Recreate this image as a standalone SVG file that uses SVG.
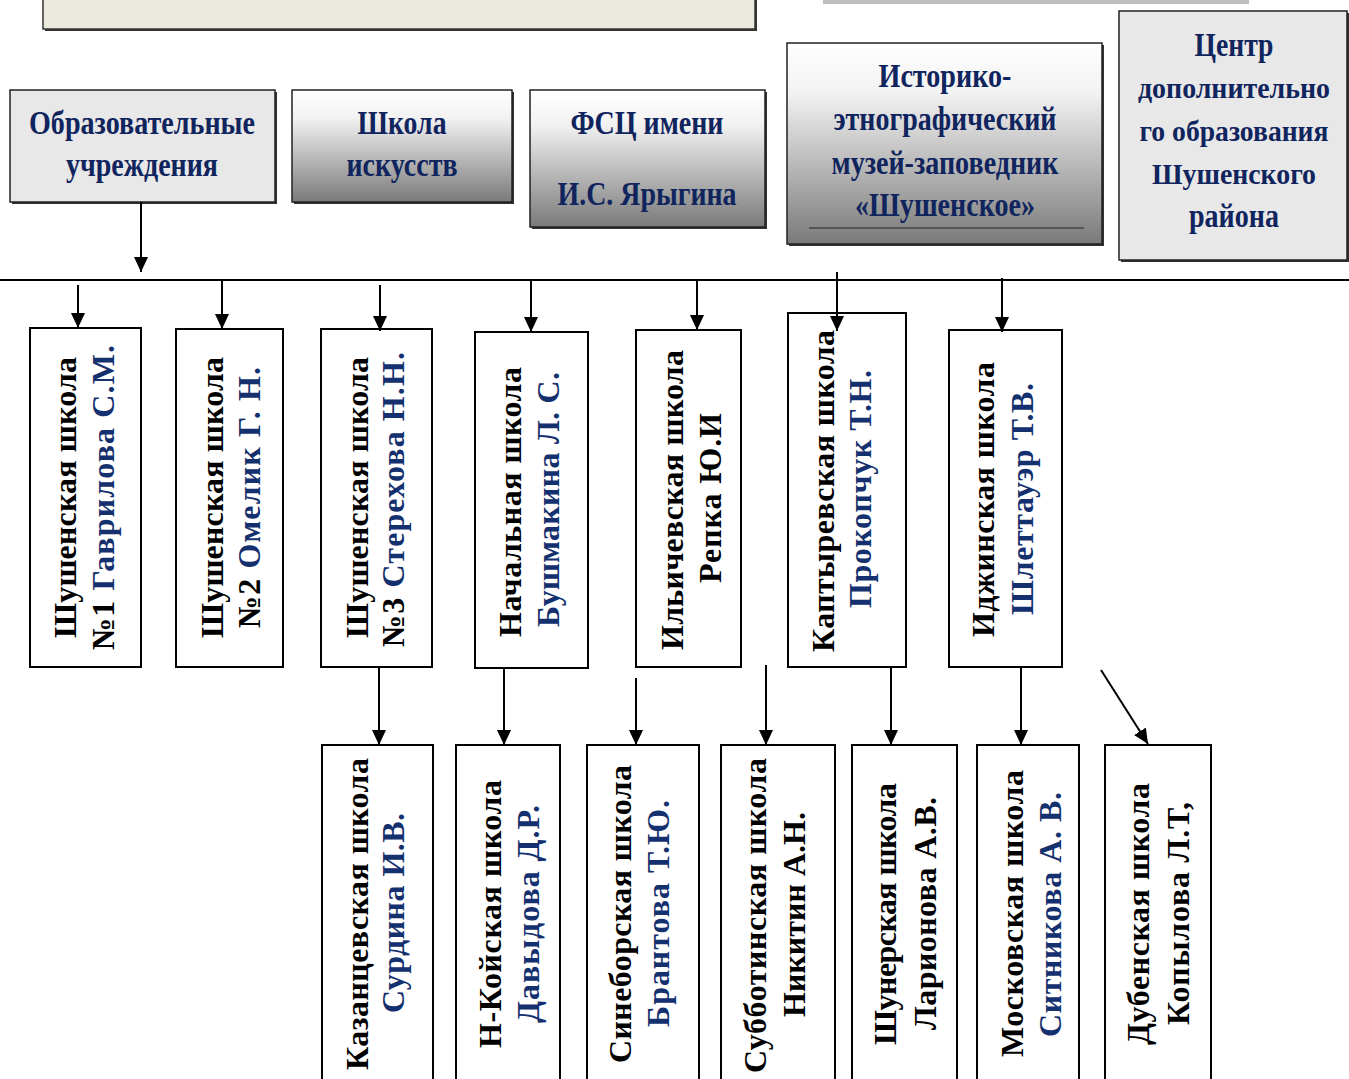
<svg xmlns="http://www.w3.org/2000/svg" width="1349" height="1079" viewBox="0 0 1349 1079">
<defs>
<style>
.box{fill:#fff;stroke:#000;stroke-width:2}
.tbox{stroke:#222;stroke-width:1.5}
.shadow{fill:#333}
.v{font-family:"Liberation Serif","Times New Roman",serif;font-weight:bold;font-size:32px;fill:#000}
.h{font-family:"Liberation Serif","Times New Roman",serif;font-weight:bold;font-size:34px;fill:#10245e;text-anchor:middle}
.hs{font-size:30px}
.n{fill:#14306e}
.conn{stroke:#000;stroke-width:2;fill:none}
</style>
<linearGradient id="g1" x1="0" y1="0" x2="0" y2="1">
<stop offset="0" stop-color="#ffffff"/>
<stop offset="0.25" stop-color="#f2f2f2"/>
<stop offset="1" stop-color="#7a7a7a"/>
</linearGradient>
<marker id="ah" markerUnits="userSpaceOnUse" markerWidth="15" markerHeight="14" refX="15" refY="7" orient="auto">
<path d="M0,0 L15,7 L0,14 z" fill="#000"/>
</marker>
</defs>
<rect width="1349" height="1079" fill="#fff"/>

<g id="banner">
<rect x="45" y="-4" width="712" height="35" class="shadow"/>
<rect x="43" y="-6" width="712" height="35" fill="#ece9df" stroke="#333" stroke-width="1.5"/>
<rect x="823" y="-2" width="426" height="6" fill="#bfbfbf"/>
</g>

<g id="obr">
<rect x="12" y="92" width="265" height="112" class="shadow"/>
<rect x="10" y="90" width="265" height="112" fill="#e8e8e8" class="tbox"/>
<text class="h" x="142" y="134" textLength="226" lengthAdjust="spacingAndGlyphs">Образовательные</text>
<text class="h" x="142" y="176" textLength="152" lengthAdjust="spacingAndGlyphs">учреждения</text>
</g>
<g id="art">
<rect x="294" y="92" width="220" height="112" class="shadow"/>
<rect x="292" y="90" width="220" height="112" fill="url(#g1)" class="tbox"/>
<text class="h" x="402" y="134" textLength="89" lengthAdjust="spacingAndGlyphs">Школа</text>
<text class="h" x="402" y="176" textLength="111" lengthAdjust="spacingAndGlyphs">искусств</text>
</g>
<g id="fsc">
<rect x="532" y="92" width="235" height="137" class="shadow"/>
<rect x="530" y="90" width="235" height="137" fill="url(#g1)" class="tbox"/>
<text class="h" x="647" y="134" textLength="153" lengthAdjust="spacingAndGlyphs">ФСЦ имени</text>
<text class="h" x="647" y="205" textLength="179" lengthAdjust="spacingAndGlyphs">И.С. Ярыгина</text>
</g>
<g id="museum">
<rect x="789" y="45" width="315" height="201" class="shadow"/>
<rect x="787" y="43" width="315" height="201" fill="url(#g1)" class="tbox"/>
<text class="h" x="945" y="87" textLength="133" lengthAdjust="spacingAndGlyphs">Историко-</text>
<text class="h" x="945" y="130" textLength="223" lengthAdjust="spacingAndGlyphs">этнографический</text>
<text class="h" x="945" y="174" textLength="227" lengthAdjust="spacingAndGlyphs">музей-заповедник</text>
<text class="h" x="945" y="216" textLength="180" lengthAdjust="spacingAndGlyphs">«Шушенское»</text>
<line x1="809" y1="228" x2="1084" y2="228" stroke="#222" stroke-width="1"/>
</g>
<g id="center">
<rect x="1121" y="13" width="228" height="249" class="shadow"/>
<rect x="1119" y="11" width="228" height="249" fill="#e8e8e8" class="tbox"/>
<text class="h" x="1234" y="56" textLength="79" lengthAdjust="spacingAndGlyphs">Центр</text>
<text class="h hs" x="1234" y="98" textLength="192" lengthAdjust="spacingAndGlyphs">дополнительно</text>
<text class="h hs" x="1234" y="141" textLength="189" lengthAdjust="spacingAndGlyphs">го образования</text>
<text class="h hs" x="1234" y="184" textLength="164" lengthAdjust="spacingAndGlyphs">Шушенского</text>
<text class="h" x="1234" y="227" textLength="90" lengthAdjust="spacingAndGlyphs">района</text>
</g>

<g id="s1">
<rect x="30" y="328" width="111" height="339" class="box"/>
<text class="v" transform="translate(76,497.5) rotate(-90)" text-anchor="middle" textLength="281" lengthAdjust="spacing">Шушенская школа</text>
<text class="v" transform="translate(114,497.5) rotate(-90)" text-anchor="middle" textLength="305" lengthAdjust="spacing">№1  <tspan class="n">Гаврилова С.М.</tspan></text>
</g>
<g id="s2">
<rect x="176" y="329" width="107" height="338" class="box"/>
<text class="v" transform="translate(223,497.5) rotate(-90)" text-anchor="middle" textLength="281" lengthAdjust="spacing">Шушенская школа</text>
<text class="v" transform="translate(260,497.5) rotate(-90)" text-anchor="middle" textLength="261" lengthAdjust="spacing">№2  <tspan class="n">Омелик Г. Н.</tspan></text>
</g>
<g id="s3">
<rect x="321" y="329" width="111" height="338" class="box"/>
<text class="v" transform="translate(368,497.5) rotate(-90)" text-anchor="middle" textLength="281" lengthAdjust="spacing">Шушенская школа</text>
<text class="v" transform="translate(404,499.5) rotate(-90)" text-anchor="middle" textLength="295" lengthAdjust="spacing">№3  <tspan class="n">Стерехова Н.Н.</tspan></text>
</g>
<g id="s4">
<rect x="475" y="332" width="113" height="336" class="box"/>
<text class="v" transform="translate(521,502) rotate(-90)" text-anchor="middle" textLength="270" lengthAdjust="spacing">Начальная школа</text>
<text class="v n" transform="translate(559,499.5) rotate(-90)" text-anchor="middle" textLength="255" lengthAdjust="spacing">Бушмакина Л. С.</text>
</g>
<g id="s5">
<rect x="636" y="330" width="105" height="337" class="box"/>
<text class="v" transform="translate(683,500) rotate(-90)" text-anchor="middle" textLength="300" lengthAdjust="spacing">Ильичевская школа</text>
<text class="v" transform="translate(721,498) rotate(-90)" text-anchor="middle" textLength="170" lengthAdjust="spacing">Репка Ю.И</text>
</g>
<g id="s6">
<rect x="788" y="313" width="118" height="354" class="box"/>
<text class="v" transform="translate(834,491) rotate(-90)" text-anchor="middle" textLength="322" lengthAdjust="spacing">Каптыревская школа</text>
<text class="v n" transform="translate(871,489) rotate(-90)" text-anchor="middle" textLength="238" lengthAdjust="spacing">Прокопчук Т.Н.</text>
</g>
<g id="s7">
<rect x="949" y="330" width="113" height="337" class="box"/>
<text class="v" transform="translate(994,499.5) rotate(-90)" text-anchor="middle" textLength="275" lengthAdjust="spacing">Иджинская школа</text>
<text class="v n" transform="translate(1033,499) rotate(-90)" text-anchor="middle" textLength="232" lengthAdjust="spacing">Шлеттауэр Т.В.</text>
</g>

<g id="b1">
<rect x="322" y="745" width="111" height="345" class="box"/>
<text class="v" transform="translate(368,914) rotate(-90)" text-anchor="middle" textLength="312" lengthAdjust="spacing">Казанцевская школа</text>
<text class="v n" transform="translate(404,913) rotate(-90)" text-anchor="middle" textLength="200" lengthAdjust="spacing">Сурдина И.В.</text>
</g>
<g id="b2">
<rect x="456" y="745" width="104" height="345" class="box"/>
<text class="v" transform="translate(501,914) rotate(-90)" text-anchor="middle" textLength="268" lengthAdjust="spacing">Н-Койская школа</text>
<text class="v n" transform="translate(539,914) rotate(-90)" text-anchor="middle" textLength="218" lengthAdjust="spacing">Давыдова Д.Р.</text>
</g>
<g id="b3">
<rect x="587" y="745" width="112" height="345" class="box"/>
<text class="v" transform="translate(631,914) rotate(-90)" text-anchor="middle" textLength="298" lengthAdjust="spacing">Синеборская школа</text>
<text class="v n" transform="translate(669,913.5) rotate(-90)" text-anchor="middle" textLength="227" lengthAdjust="spacing">Брантова Т.Ю.</text>
</g>
<g id="b4">
<rect x="721" y="745" width="114" height="345" class="box"/>
<text class="v" transform="translate(766,915.5) rotate(-90)" text-anchor="middle" textLength="315" lengthAdjust="spacing">Субботинская школа</text>
<text class="v" transform="translate(805,914.5) rotate(-90)" text-anchor="middle" textLength="205" lengthAdjust="spacing">Никитин А.Н.</text>
</g>
<g id="b5">
<rect x="852" y="745" width="105" height="345" class="box"/>
<text class="v" transform="translate(896,914) rotate(-90)" text-anchor="middle" textLength="262" lengthAdjust="spacing">Шунерская школа</text>
<text class="v" transform="translate(936,913.5) rotate(-90)" text-anchor="middle" textLength="233" lengthAdjust="spacing">Ларионова А.В.</text>
</g>
<g id="b6">
<rect x="977" y="745" width="102" height="345" class="box"/>
<text class="v" transform="translate(1023,913.5) rotate(-90)" text-anchor="middle" textLength="287" lengthAdjust="spacing">Московская школа</text>
<text class="v n" transform="translate(1061,914.5) rotate(-90)" text-anchor="middle" textLength="245" lengthAdjust="spacing">Ситникова А. В.</text>
</g>
<g id="b7">
<rect x="1105" y="745" width="106" height="345" class="box"/>
<text class="v" transform="translate(1149,914) rotate(-90)" text-anchor="middle" textLength="262" lengthAdjust="spacing">Дубенская школа</text>
<text class="v" transform="translate(1189,913.5) rotate(-90)" text-anchor="middle" textLength="223" lengthAdjust="spacing">Копылова Л.Т,</text>
</g>

<g id="connectors">
<line class="conn" x1="0" y1="280" x2="1349" y2="280"/>
<line class="conn" x1="141" y1="202" x2="141" y2="272" marker-end="url(#ah)"/>
<line class="conn" x1="78" y1="285" x2="78" y2="328" marker-end="url(#ah)"/>
<line class="conn" x1="222" y1="280" x2="222" y2="329" marker-end="url(#ah)"/>
<line class="conn" x1="380" y1="285" x2="380" y2="331" marker-end="url(#ah)"/>
<line class="conn" x1="531" y1="280" x2="531" y2="332" marker-end="url(#ah)"/>
<line class="conn" x1="697" y1="280" x2="697" y2="330" marker-end="url(#ah)"/>
<line class="conn" x1="837" y1="272" x2="837" y2="331" marker-end="url(#ah)"/>
<line class="conn" x1="1002" y1="278" x2="1002" y2="332" marker-end="url(#ah)"/>
<line class="conn" x1="379" y1="667" x2="379" y2="745" marker-end="url(#ah)"/>
<line class="conn" x1="504" y1="668" x2="504" y2="745" marker-end="url(#ah)"/>
<line class="conn" x1="636" y1="678" x2="636" y2="745" marker-end="url(#ah)"/>
<line class="conn" x1="766" y1="665" x2="766" y2="745" marker-end="url(#ah)"/>
<line class="conn" x1="891" y1="667" x2="891" y2="745" marker-end="url(#ah)"/>
<line class="conn" x1="1021" y1="667" x2="1021" y2="745" marker-end="url(#ah)"/>
<line class="conn" x1="1101" y1="670" x2="1148" y2="744" marker-end="url(#ah)"/>
</g>
</svg>
